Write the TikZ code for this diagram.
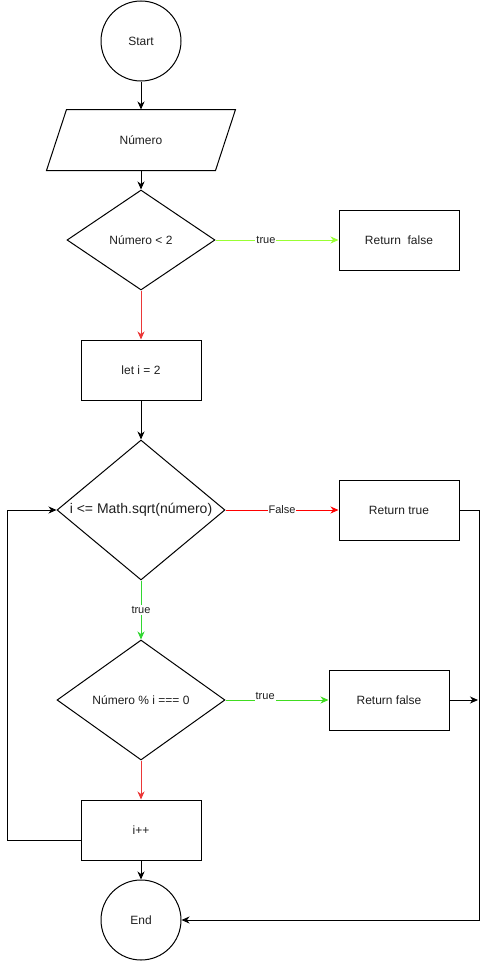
\documentclass[tikz,border=0pt]{standalone}
\usepackage{fontspec}
\setmainfont{Liberation Sans}
\usetikzlibrary{shapes.geometric,arrows.meta,calc}
\definecolor{lgreen}{RGB}{153,255,51}
\definecolor{mgreen}{RGB}{64,220,32}
\definecolor{tgreen}{RGB}{50,215,50}
\definecolor{pred}{RGB}{255,0,0}
\definecolor{sred}{RGB}{235,55,55}
\definecolor{txt}{RGB}{30,30,30}
\begin{document}
\begin{tikzpicture}[x=1pt,y=-1pt,line width=1pt,
  every node/.style={font=\fontsize{12}{14}\selectfont,text=txt},
  term/.style={circle,draw=black,minimum size=80pt,inner sep=0pt},
  proc/.style={rectangle,draw=black,minimum width=120pt,minimum height=60pt,inner sep=0pt},
  dia/.style={diamond,draw=black,inner sep=0pt},
  lbl/.style={fill=white,inner sep=1pt,font=\fontsize{11}{12}\selectfont},
  arr/.style={-{Stealth[length=8pt,width=7pt,inset=2.5pt]}}]
\useasboundingbox (0,0) rectangle (488,961);

\node[term] (start) at (141,41) {Start};
\node[minimum width=168pt,minimum height=60pt,inner sep=0pt] (inp) at (141,140) {Número};
\draw ($(inp.south west)+(-10,0)$) -- ($(inp.north west)+(10,0)$) -- ($(inp.north east)+(10,0)$) -- ($(inp.south east)+(-10,0)$) -- cycle;
\node[dia,minimum width=148pt,minimum height=100pt] (d1) at (141,240) {};
\node (d1t) at (d1) {Número < 2};
\node[proc] (rf1) at (399,240) {Return\ \ false};
\node[proc] (let) at (141,370) {let i = 2};
\node[dia,minimum width=168pt,minimum height=140pt] (d2) at (141,510) {};
\node[font=\fontsize{14}{16}\selectfont] (d2t) at (d2) {i <= Math.sqrt(número)};
\node[proc] (rt) at (399,510) {Return true};
\node[dia,minimum width=168pt,minimum height=120pt] (d3) at (141,700) {};
\node (d3t) at (d3) {Número \% i === 0};
\node[proc] (rf2) at (389,700) {Return false};
\node[proc] (inc) at (141,830) {i++};
\node[term] (end) at (141,920) {End};
\coordinate (rfend) at (478,700);
\coordinate (loopx) at (7,840);
\coordinate (rightx) at (479,510);

\draw[arr] (start) -- (inp);
\draw[arr] (inp) -- (d1);
\draw[arr,lgreen] (d1) -- node[lbl,pos=0.41] {true} (rf1);
\draw[arr,sred] (d1) -- (let);
\draw[arr] (let) -- (d2);
\draw[arr,pred] (d2) -- node[lbl] {False} (rt);
\draw[arr,tgreen] (d2) -- node[lbl] {true} (d3);
\draw[arr,mgreen] (d3) -- node[lbl,pos=0.385,yshift=4pt] {true} (rf2);
\draw[arr,sred] (d3) -- (inc);
\draw[arr] (inc) -- (end);
\draw[arr] ($(inc.west)+(0,10)$) -- (loopx) |- (d2.west);
\draw[arr] (rt.east) -- (rightx) |- (end.east);
\draw[arr] (rf2.east) -- (rfend);
\end{tikzpicture}
\end{document}
